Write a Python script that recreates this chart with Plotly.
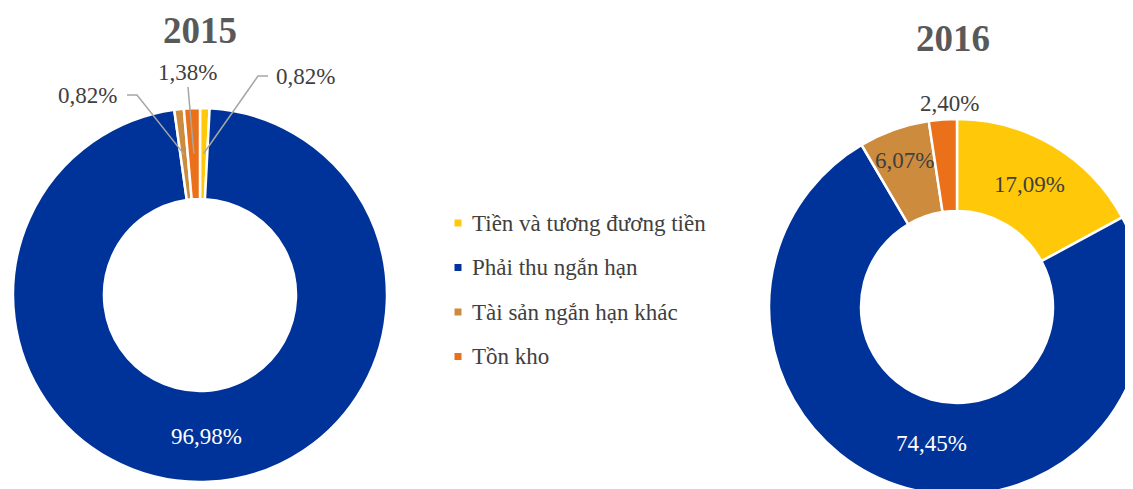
import math
import plotly.graph_objects as go

# ---- data ----
categories = ["Tiền và tương đương tiền", "Phải thu ngắn hạn", "Tài sản ngắn hạn khác", "Tồn kho"]
years = ["2015", "2016"]
values_2015 = [0.82, 96.98, 0.82, 1.38]
values_2016 = [17.09, 74.45, 6.07, 2.40]
colors = ["#FFC90A", "#003399", "#CD8B3E", "#EA7119"]

# figure is larger than the window; the page body offsets it by 8px
W, H = 1160, 510
OFF = 8
FONT = "Liberation Serif"

# pie geometry (screen pixels, from top-left of the window)
pies = {
    "2015": dict(cx=200, cy=295, R=187, values=values_2015),
    "2016": dict(cx=957, cy=307, R=188, values=values_2016),
}
HOLE_PX = 96


def px(x, y):
    return (x - OFF) / W, 1 - (y - OFF) / H


fig = go.Figure()
for yr in years:
    p = pies[yr]
    cx, cy, R = p["cx"], p["cy"], p["R"]
    x0, y1 = px(cx - R, cy - R)
    x1, y0 = px(cx + R, cy + R)
    fig.add_trace(go.Pie(
        labels=categories, values=p["values"], sort=False, direction="clockwise",
        rotation=0, hole=HOLE_PX / R,
        marker=dict(colors=colors, line=dict(color="white", width=2.5)),
        textinfo="none", hoverinfo="label+percent", showlegend=False,
        domain=dict(x=[x0, x1], y=[y0, y1]),
    ))


def fmt(v):
    return f"{v:.2f}".replace(".", ",") + "%"


def mid_point(p, i, rad):
    vals = p["values"]
    tot = sum(vals)
    start = sum(vals[:i])
    frac = (start + vals[i] / 2) / tot
    ang = 2 * math.pi * frac
    return p["cx"] + rad * math.sin(ang), p["cy"] - rad * math.cos(ang)


annotations = []
shapes = []

# titles
title_pos = {"2015": (200, 31), "2016": (953, 38)}
for yr in years:
    x, y = px(*title_pos[yr])
    annotations.append(dict(x=x, y=y, xref="paper", yref="paper", text="<b>%s</b>" % yr,
                            showarrow=False, font=dict(family=FONT, size=37, color="#595959"),
                            xanchor="center", yanchor="middle"))

LBL = dict(family=FONT, size=23)
DARK = "#404040"

# 2015 labels
p = pies["2015"]
ring_mid = (HOLE_PX + p["R"]) / 2
x, y = mid_point(p, 1, ring_mid)
annotations.append(dict(x=px(x, y)[0], y=px(x, y)[1], xref="paper", yref="paper",
                        text=fmt(p["values"][1]), showarrow=False,
                        font=dict(LBL, color="white"), xanchor="center", yanchor="middle"))
# small slices with leader lines: (index, text center, elbow start, elbow end)
leaders = {
    0: ((305, 77), (268, 76), (258, 76)),
    3: ((187, 72), (188, 87), (188, 87)),
    2: ((87, 95), (127, 95), (137, 95)),
}
for i, (tc, e1, e2) in leaders.items():
    tx, ty = mid_point(p, i, ring_mid)
    shapes.append(dict(type="path", xref="paper", yref="paper",
                       path="M %f %f L %f %f L %f %f" % (*px(*e1), *px(*e2), *px(tx, ty)),
                       line=dict(color="#A6A6A6", width=1.5)))
    annotations.append(dict(x=px(*tc)[0], y=px(*tc)[1], xref="paper", yref="paper",
                            text=fmt(p["values"][i]), showarrow=False,
                            font=dict(LBL, color=DARK), xanchor="center", yanchor="middle"))

# 2016 labels
p = pies["2016"]
ring_mid = (HOLE_PX + p["R"]) / 2
label_specs = [  # (index, radius, color, x shift)
    (0, ring_mid, DARK, 0),
    (1, ring_mid, "white", 12),
    (2, ring_mid + 14, DARK, 0),
    (3, p["R"] + 16, DARK, 8),
]
for i, rad, col, dx in label_specs:
    x, y = mid_point(p, i, rad)
    annotations.append(dict(x=px(x + dx, y)[0], y=px(x, y)[1], xref="paper", yref="paper",
                            text=fmt(p["values"][i]), showarrow=False,
                            font=dict(LBL, color=col), xanchor="center", yanchor="middle"))

# legend
leg_x, leg_y0, leg_dy = 458, 223, 44.5
for k, (cat, col) in enumerate(zip(categories, colors)):
    yy = leg_y0 + k * leg_dy
    x0, y1 = px(leg_x - 3.5, yy - 3.5)
    x1, y0 = px(leg_x + 3.5, yy + 3.5)
    shapes.append(dict(type="rect", xref="paper", yref="paper", x0=x0, y0=y0, x1=x1, y1=y1,
                       fillcolor=col, line=dict(width=0)))
    annotations.append(dict(x=px(leg_x + 12, yy)[0], y=px(leg_x, yy)[1], xref="paper", yref="paper",
                            text=cat, showarrow=False, xanchor="left", yanchor="middle",
                            font=dict(family=FONT, size=23, color="#404040")))

fig.update_layout(width=W, height=H, margin=dict(l=0, r=0, t=0, b=0),
                  paper_bgcolor="white", plot_bgcolor="white",
                  annotations=annotations, shapes=shapes)
fig.write_html("out.html")
